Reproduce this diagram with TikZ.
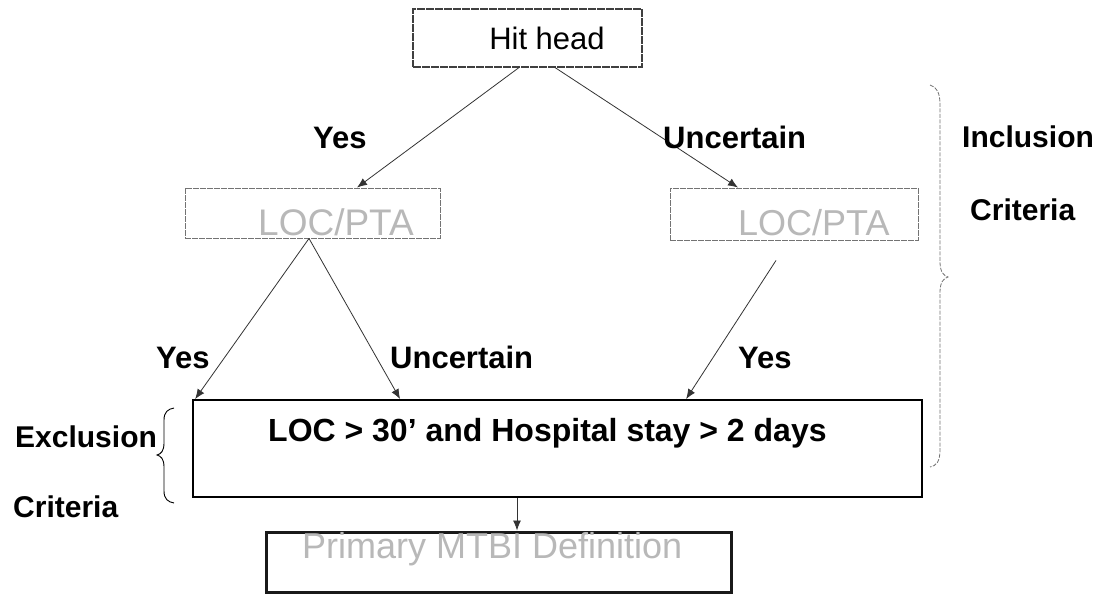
\documentclass[tikz,border=0pt]{standalone}
\usepackage{fontspec}
\setmainfont{Liberation Sans}
\usetikzlibrary{arrows.meta,calc}
\begin{document}
\begin{tikzpicture}[x=1pt,y=-1pt,
  boxthin/.style={draw=black!75, line width=1.1pt, dash pattern=on 8pt off 1pt, inner sep=0pt},
  boxgray/.style={draw=black!55, line width=0.9pt, dash pattern=on 6pt off 1pt, inner sep=0pt},
  boxmain/.style={draw=black, line width=1.8pt, inner sep=0pt},
  boxthick/.style={draw=black!90, line width=3pt, inner sep=0pt},
  lbl/.style={font=\fontsize{31}{36}\selectfont\bfseries, inner sep=0pt, anchor=base west},
  crit/.style={font=\fontsize{30}{35}\selectfont\bfseries, inner sep=0pt, anchor=base west},
  ghost/.style={text=black!28, inner sep=0pt, anchor=base west},
  arr/.style={-{Latex[length=10pt,width=8pt]}, draw=black!80, line width=0.8pt},
  brace/.style={draw=black!55, line width=0.8pt, dash pattern=on 4pt off 1.5pt}
]
\useasboundingbox[fill=white] (0,0) rectangle (1106,594);

% boxes
\node[boxthin, minimum width=229pt, minimum height=58pt] (hit) at (527.5,38)
  {\hspace*{39pt}\fontsize{31}{36}\selectfont Hit head};
\node[boxgray, minimum width=255pt, minimum height=50pt] (locL) at (312.5,213) {};
\node[ghost, font=\fontsize{37}{42}\selectfont] (locLt) at (258,235) {LOC/PTA};
\node[boxgray, minimum width=248pt, minimum height=52pt] (locR) at (794,214) {};
\node[ghost, font=\fontsize{36}{42}\selectfont] (locRt) at (738,235) {LOC/PTA};
\node[boxmain, minimum width=729pt, minimum height=97pt] (main) at (557.5,448.5) {};
\node[inner sep=0pt, anchor=base west, font=\fontsize{32}{38}\selectfont\bfseries] (maint) at (268,441) {LOC > 30’ and Hospital stay > 2 days};
\node[boxthick, minimum width=465pt, minimum height=60pt] (prim) at (498.5,562) {};
\node[ghost, font=\fontsize{36}{42}\selectfont] (primt) at (302,558) {Primary MTBI Definition};

% end points
\coordinate (rs) at ([xshift=-18pt,yshift=-20pt]locR.south);

% connectors
\draw[arr] ([xshift=-8.5pt]hit.south) -- ([xshift=44.5pt]locL.north);
\draw[arr] ([xshift=27.5pt]hit.south) -- ([xshift=-56pt]locR.north);
\draw[arr] ([xshift=-3.5pt]locL.south) -- ([xshift=3pt]main.north west);
\draw[arr] ([xshift=-3.5pt]locL.south) -- ([xshift=208pt]main.north west);
\draw[arr] (rs) -- ([xshift=494pt]main.north west);
\draw[arr] ([xshift=-40.5pt]main.south) -- ([xshift=18.5pt]prim.north);

% labels
\node[lbl] (y1) at (313,148) {Yes};
\node[lbl] (u1) at (663,148) {Uncertain};
\node[lbl] (y2) at (156,368) {Yes};
\node[lbl] (u2) at (390,368) {Uncertain};
\node[lbl] (y3) at (738,368) {Yes};
\node[crit] (inc) at (962,147) {Inclusion};
\node[crit] (crR) at (970,220) {Criteria};
\node[crit] (exc) at (15,447) {Exclusion};
\node[crit] (crL) at (13,517) {Criteria};

% braces
\draw[brace] (930,85) .. controls (937,87) and (940,93) .. (940,105)
  -- (940,262) .. controls (940,272) and (944,276) .. (948,277)
  .. controls (944,278) and (940,282) .. (940,292)
  -- (940,450) .. controls (940,462) and (936,466) .. (930,467);
\draw[draw=black, line width=0.9pt] (174,408) .. controls (168,409) and (164,412) .. (164,420)
  -- (164,443) .. controls (164,451) and (161,454) .. (157,455)
  .. controls (161,456) and (164,459) .. (164,467)
  -- (164,491) .. controls (164,499) and (168,502) .. (174,503);
\end{tikzpicture}
\end{document}
